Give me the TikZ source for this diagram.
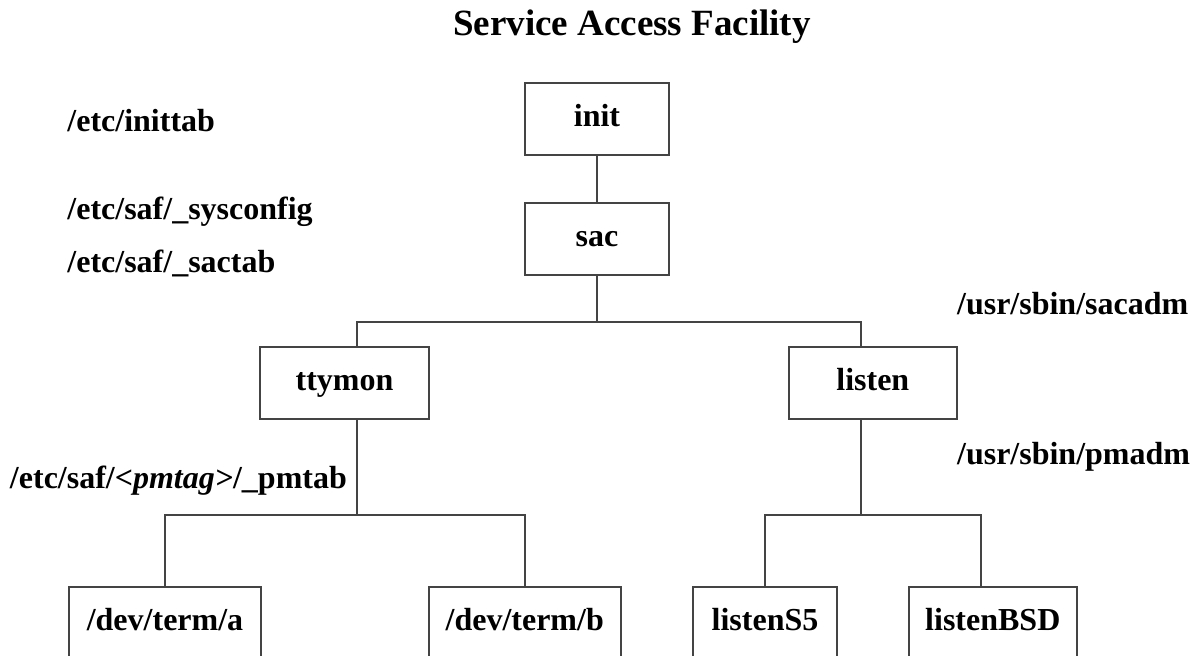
\documentclass[tikz,border=0pt]{standalone}
\usepackage{fontspec}
\setmainfont{Liberation Serif}
\definecolor{linegray}{RGB}{68,68,68}
\begin{document}
\begin{tikzpicture}[x=0.5pt,y=-0.5pt,
  prog/.style={draw=linegray,line width=1pt,minimum height=36pt,inner sep=0pt,
    text height=0.75em,text depth=0pt,font=\fontsize{16}{19}\selectfont\bfseries},
  file/.style={anchor=base west,inner sep=0pt,font=\fontsize{16}{19}\selectfont\bfseries},
  wire/.style={draw=linegray,line width=1pt}]
\useasboundingbox (0,0) rectangle (1192,656);

\node[anchor=base,inner sep=0pt,font=\fontsize{18.5}{22}\selectfont\bfseries] (title) at (632,36) {Service Access Facility};

\node[prog,minimum width=72pt] (init) at (597,118.7) {init};
\node[prog,minimum width=72pt] (sac) at (597,238.7) {sac};
\node[prog,minimum width=84.5pt] (ttymon) at (344.5,383) {ttymon};
\node[prog,minimum width=84pt] (listen) at (872.8,383) {listen};
\node[prog,minimum width=96pt] (terma) at (165,622.7) {/dev/term/a};
\node[prog,minimum width=96pt] (termb) at (524.7,622.7) {/dev/term/b};
\node[prog,minimum width=72pt] (listenSV) at (765,622.7) {listenS5};
\node[prog,minimum width=84pt] (listenBSD) at (992.8,622.7) {listenBSD};

\node[file] (inittab) at (67,131.7) {/etc/inittab};
\node[file] (sysconfig) at (67,220) {/etc/saf/\_sysconfig};
\node[file] (sactab) at (67,272.7) {/etc/saf/\_sactab};
\node[file] (pmtab) at (9.6,489) {/etc/saf/\textit{<pmtag>}/\_pmtab};
\node[file] (sacadm) at (956.7,315) {/usr/sbin/sacadm};
\node[file] (pmadm) at (956.7,465) {/usr/sbin/pmadm};

% sac level
\coordinate (sacjoin) at (597,322.5);
\coordinate (ttyjoin) at (356.5,322.5);
\coordinate (lsnjoin) at (860.5,322.5);
\draw[wire] (init) -- (sac);
\draw[wire] (sac) -- (sacjoin);
\draw[wire] (ttymon.north -| ttyjoin) -- (ttyjoin) -- (lsnjoin) -- (listen.north -| lsnjoin);

% port monitors
\coordinate (ttydown) at (356.5,515);
\coordinate (ajoin) at (165,515);
\coordinate (bjoin) at (524.7,515);
\draw[wire] (ttymon.south -| ttydown) -- (ttydown);
\draw[wire] (terma) -- (ajoin) -- (bjoin) -- (termb);

\coordinate (lsndown) at (860.5,515);
\coordinate (svjoin) at (765,515);
\coordinate (bsdjoin) at (980.5,515);
\draw[wire] (listen.south -| lsndown) -- (lsndown);
\draw[wire] (listenSV) -- (svjoin) -- (bsdjoin) -- (listenBSD.north -| bsdjoin);
\end{tikzpicture}
\end{document}
